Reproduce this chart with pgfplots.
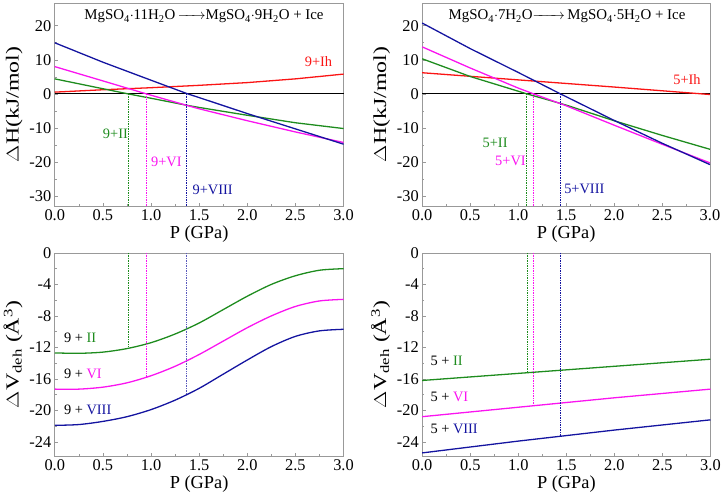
\documentclass[border=0pt]{standalone}
\usepackage{pgfplots}
\pgfplotsset{compat=1.18}
\usepackage{fontspec}
\usepackage{amsmath}
\setmainfont{Liberation Serif}
\definecolor{cred}{RGB}{250,20,20}
\definecolor{cgreen}{RGB}{30,140,30}
\definecolor{cmag}{RGB}{250,20,240}
\definecolor{cblue}{RGB}{20,20,160}
\tikzset{
  vdot/.style={line width=0.7bp, densely dotted},
  ann/.style={font=\fontsize{14.5}{16}\selectfont},
  ttl/.style={font=\fontsize{15}{17}\selectfont},
}
\pgfplotsset{
  panel/.style={
    scale only axis, width=290bp, height=204bp, anchor=south west,
    xmin=0, xmax=3, xtick={0,0.5,...,3}, minor x tick num=1,
    minor y tick num=1,
    tick align=inside, xtick pos=lower, ytick pos=left,
    axis line style={gray!80, line width=0.8bp},
    tick style={gray!80, line width=0.6bp},
    major tick length=3.5bp, minor tick length=2bp,
    /pgf/number format/assume math mode=true,
    xticklabel style={/pgf/number format/fixed, /pgf/number format/fixed zerofill, /pgf/number format/precision=1},
    tick label style={font=\fontsize{16.5}{18}\selectfont},
    xlabel style={font=\fontsize{18.5}{20}\selectfont, yshift=2bp},
    ylabel style={font=\fontsize{18.5}{20}\selectfont, xscale=1.3},
    xlabel={P (GPa)},
    every axis plot/.append style={line width=1.3bp},
    clip=false,
  },
}
\begin{document}
\begin{tikzpicture}
\path (0bp,0bp) (724bp,503bp);
% ---------------- top left
\begin{axis}[panel, at={(55bp,296bp)}, ymin=-33, ymax=26.7, ytick={-30,-20,...,20},
  ylabel={$\Delta$H(kJ/mol)}]
\addplot[black, line width=0.8bp] coordinates {(0,0) (3,0)};
\addplot[cred] coordinates {(0,0.5) (0.5,1.2) (1.0,1.8) (1.5,2.5) (2.0,3.3) (2.5,4.4) (3.0,5.8)};
\addplot[cgreen] coordinates {(0,4.4) (0.5,1.5) (0.76,0) (1.0,-1.3) (1.36,-3.3) (1.5,-4.0) (2.0,-6.3) (2.5,-8.5) (3.0,-10.2)};
\addplot[cmag] coordinates {(0,8) (0.5,3.8) (0.95,0) (1.36,-3.3) (1.5,-4.4) (2.0,-7.9) (2.5,-11.2) (3.0,-14.3)};
\addplot[cblue] coordinates {(0,15) (0.5,9.3) (1.0,4.0) (1.38,0) (1.5,-1.1) (2.0,-5.8) (2.5,-10.3) (3.0,-14.8)};
\addplot[cgreen, vdot] coordinates {(0.76,0) (0.76,-33)};
\addplot[cmag, vdot] coordinates {(0.95,0) (0.95,-33)};
\addplot[cblue, vdot] coordinates {(1.37,0) (1.37,-33)};
\node[ann, text=cred] at (axis cs:2.74,9.5) {9+Ih};
\node[ann, text=cgreen] at (axis cs:0.63,-11.8) {9+II};
\node[ann, text=cmag] at (axis cs:1.16,-20) {9+VI};
\node[ann, text=cblue] at (axis cs:1.64,-28.3) {9+VIII};
\node[ttl] at (axis cs:1.55,22.7) {MgSO\textsubscript{4}$\cdot$11H\textsubscript{2}O\,$\xrightarrow{\hspace{1.3em}}$MgSO\textsubscript{4}$\cdot$9H\textsubscript{2}O + Ice};
\end{axis}
% ---------------- top right
\begin{axis}[panel, at={(424bp,296bp)}, width=289bp, ymin=-33, ymax=26.7, ytick={-30,-20,...,20},
  ylabel={$\Delta$H(kJ/mol)}]
\addplot[black, line width=0.8bp] coordinates {(0,0) (3,0)};
\addplot[cred] coordinates {(0,6.2) (1.0,4.1) (2.0,2.0) (3.0,-0.2)};
\addplot[cgreen] coordinates {(0,10.3) (0.5,5.1) (1.09,0) (1.5,-3.3) (2.0,-7.9) (2.5,-12.2) (3.0,-16.3)};
\addplot[cmag] coordinates {(0,13.8) (0.5,7.6) (1.0,1.7) (1.16,0) (1.5,-3.5) (2.0,-9.2) (2.5,-14.8) (3.0,-20.3)};
\addplot[cblue] coordinates {(0,20.8) (0.5,13.3) (1.0,6.3) (1.44,0) (2.0,-7.8) (2.5,-14.5) (3.0,-20.8)};
\addplot[cgreen, vdot] coordinates {(1.09,0) (1.09,-33)};
\addplot[cmag, vdot] coordinates {(1.16,0) (1.16,-33)};
\addplot[cblue, vdot] coordinates {(1.44,0) (1.44,-33)};
\node[ann, text=cred] at (axis cs:2.76,4.3) {5+Ih};
\node[ann, text=cgreen] at (axis cs:0.76,-14.3) {5+II};
\node[ann, text=cmag] at (axis cs:0.92,-19.7) {5+VI};
\node[ann, text=cblue] at (axis cs:1.69,-28) {5+VIII};
\node[ttl] at (axis cs:1.51,22.7) {MgSO\textsubscript{4}$\cdot$7H\textsubscript{2}O$\xrightarrow{\hspace{1.6em}}$\,MgSO\textsubscript{4}$\cdot$5H\textsubscript{2}O + Ice};
\end{axis}
% ---------------- bottom left
\begin{axis}[panel, at={(55bp,45bp)}, ymin=-25.8, ymax=0, ytick={-24,-20,...,0},
  ylabel={$\Delta$V\textsubscript{deh} (Å\textsuperscript{3})}]
\addplot[cgreen, smooth] coordinates {(0,-12.7) (0.25,-12.75) (0.5,-12.6) (0.75,-12.15) (1.0,-11.4) (1.25,-10.3) (1.5,-8.9) (1.75,-7.2) (2.0,-5.5) (2.25,-4.0) (2.5,-2.9) (2.75,-2.2) (3.0,-2.0)};
\addplot[cmag, smooth] coordinates {(0,-17.3) (0.25,-17.3) (0.5,-17.05) (0.75,-16.5) (1.0,-15.6) (1.25,-14.4) (1.5,-12.9) (1.75,-11.2) (2.0,-9.5) (2.25,-8.0) (2.5,-6.8) (2.75,-6.1) (3.0,-5.9)};
\addplot[cblue, smooth] coordinates {(0,-21.9) (0.25,-21.8) (0.5,-21.4) (0.75,-20.8) (1.0,-19.9) (1.25,-18.7) (1.5,-17.2) (1.75,-15.4) (2.0,-13.6) (2.25,-11.9) (2.5,-10.6) (2.75,-9.9) (3.0,-9.7)};
\addplot[cgreen, vdot] coordinates {(0.76,0) (0.76,-12.1)};
\addplot[cmag, vdot] coordinates {(0.95,0) (0.95,-15.7)};
\addplot[cblue!70, vdot] coordinates {(1.37,0) (1.37,-18.0)};
\node[ann, anchor=west] at (axis cs:0.06,-10.8) {9 + \textcolor{cgreen}{II}};
\node[ann, anchor=west] at (axis cs:0.06,-15.3) {9 + \textcolor{cmag}{VI}};
\node[ann, anchor=west] at (axis cs:0.06,-19.9) {9 + \textcolor{cblue}{VIII}};
\end{axis}
% ---------------- bottom right
\begin{axis}[panel, at={(424bp,45bp)}, width=289.5bp, ymin=-25.8, ymax=0, ytick={-24,-20,...,0},
  ylabel={$\Delta$V\textsubscript{deh} (Å\textsuperscript{3})}]
\addplot[cgreen] coordinates {(0,-16.2) (1.0,-15.3) (2.0,-14.4) (3.0,-13.5)};
\addplot[cmag] coordinates {(0,-20.8) (1.0,-19.6) (2.0,-18.4) (3.0,-17.3)};
\addplot[cblue] coordinates {(0,-25.4) (1.0,-23.9) (2.0,-22.5) (3.0,-21.2)};
\addplot[cgreen, vdot] coordinates {(1.09,0) (1.09,-15.1)};
\addplot[cmag, vdot] coordinates {(1.16,0) (1.16,-19.3)};
\addplot[cblue, vdot] coordinates {(1.44,0) (1.44,-23.2)};
\node[ann, anchor=west] at (axis cs:0.05,-13.7) {5 + \textcolor{cgreen}{II}};
\node[ann, anchor=west] at (axis cs:0.05,-18.3) {5 + \textcolor{cmag}{VI}};
\node[ann, anchor=west] at (axis cs:0.05,-22.35) {5 + \textcolor{cblue}{VIII}};
\end{axis}
\end{tikzpicture}
\end{document}
